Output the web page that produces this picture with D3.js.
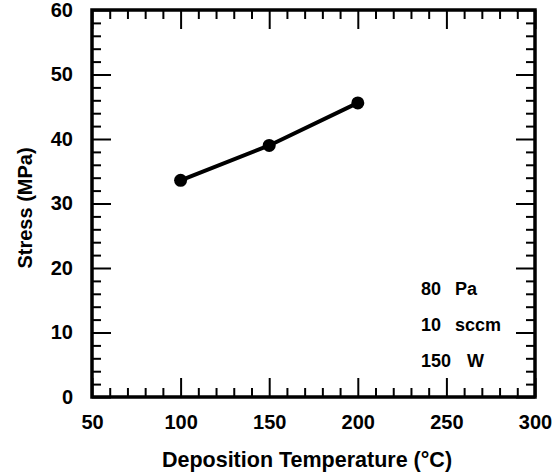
<!DOCTYPE html>
<html><head><meta charset="utf-8">
<script src="https://cdn.jsdelivr.net/npm/d3@7"></script>
<style>
html,body{margin:0;padding:0;background:#fff;}
text{font-family:"Liberation Sans",Arial,Helvetica,sans-serif;font-weight:bold;fill:#000;}
</style></head>
<body>
<svg id="c" width="555" height="473"></svg>
<script>
const temps = [100, 150, 200];
const stress = [33.6, 39.0, 45.6];
const xMajor = [50, 100, 150, 200, 250, 300];
const yMajor = [0, 10, 20, 30, 40, 50, 60];
const xMinor = d3.range(50, 301, 10).filter(v => v % 50 !== 0);
const yMinor = d3.range(0, 61, 2).filter(v => v % 10 !== 0);
const legendNums = ["80", "10", "150"];
const legendUnits = ["Pa", "sccm", "W"];

const svg = d3.select("#c");
const L = 92, R = 535, T = 10, B = 397;
const x = d3.scaleLinear().domain([50, 300]).range([L, R]);
const y = d3.scaleLinear().domain([0, 60]).range([B, T]);

function styleAx(g){
  g.select(".domain").remove();
  g.selectAll(".tick line").attr("stroke", "#000").attr("stroke-width", 2);
}
// bottom
svg.append("g").attr("transform", `translate(0,${B})`)
  .call(d3.axisBottom(x).tickValues(xMajor).tickSize(-19).tickPadding(18).tickFormat(d3.format("d")))
  .call(styleAx)
  .selectAll("text").attr("font-size", 20).style("font-family", "'Liberation Sans',Arial,sans-serif").style("font-weight","bold");
svg.append("g").attr("transform", `translate(0,${B})`)
  .call(d3.axisBottom(x).tickValues(xMinor).tickSize(-9).tickFormat("")).call(styleAx);
// top
svg.append("g").attr("transform", `translate(0,${T})`)
  .call(d3.axisTop(x).tickValues(xMajor).tickSize(-19).tickFormat("")).call(styleAx);
svg.append("g").attr("transform", `translate(0,${T})`)
  .call(d3.axisTop(x).tickValues(xMinor).tickSize(-9).tickFormat("")).call(styleAx);
// left
svg.append("g").attr("transform", `translate(${L},0)`)
  .call(d3.axisLeft(y).tickValues(yMajor).tickSize(-19).tickPadding(19).tickFormat(d3.format("d")))
  .call(styleAx)
  .selectAll("text").attr("font-size", 20).style("font-family", "'Liberation Sans',Arial,sans-serif").style("font-weight","bold");
svg.append("g").attr("transform", `translate(${L},0)`)
  .call(d3.axisLeft(y).tickValues(yMinor).tickSize(-9).tickFormat("")).call(styleAx);
// right
svg.append("g").attr("transform", `translate(${R},0)`)
  .call(d3.axisRight(y).tickValues(yMajor).tickSize(-19).tickFormat("")).call(styleAx);
svg.append("g").attr("transform", `translate(${R},0)`)
  .call(d3.axisRight(y).tickValues(yMinor).tickSize(-9).tickFormat("")).call(styleAx);

// frame
svg.append("rect").attr("x", L).attr("y", T).attr("width", R - L).attr("height", B - T)
  .attr("fill", "none").attr("stroke", "#000").attr("stroke-width", 3.5);

// data
const pts = temps.map((t, i) => [t, stress[i]]);
svg.append("path").datum(pts)
  .attr("d", d3.line().x(d => x(d[0])).y(d => y(d[1])))
  .attr("fill", "none").attr("stroke", "#000").attr("stroke-width", 4);
svg.selectAll("circle.pt").data(pts).join("circle")
  .attr("cx", d => x(d[0])).attr("cy", d => y(d[1])).attr("r", 6.5).attr("fill", "#000");

// legend text
const legY = [295, 331, 367];
const unitX = [455, 455, 467];
legendNums.forEach((n, i) => {
  svg.append("text").attr("x", 421).attr("y", legY[i]).attr("font-size", 18).text(n);
  svg.append("text").attr("x", unitX[i]).attr("y", legY[i]).attr("font-size", 18).text(legendUnits[i]);
});

// axis titles
svg.append("text").attr("x", 307).attr("y", 467).attr("text-anchor", "middle")
  .attr("font-size", 21.5).text("Deposition Temperature (°C)");
svg.append("text").attr("transform", `translate(32,208) rotate(-90)`).attr("text-anchor", "middle")
  .attr("font-size", 20).text("Stress (MPa)");
</script>
</body></html>
